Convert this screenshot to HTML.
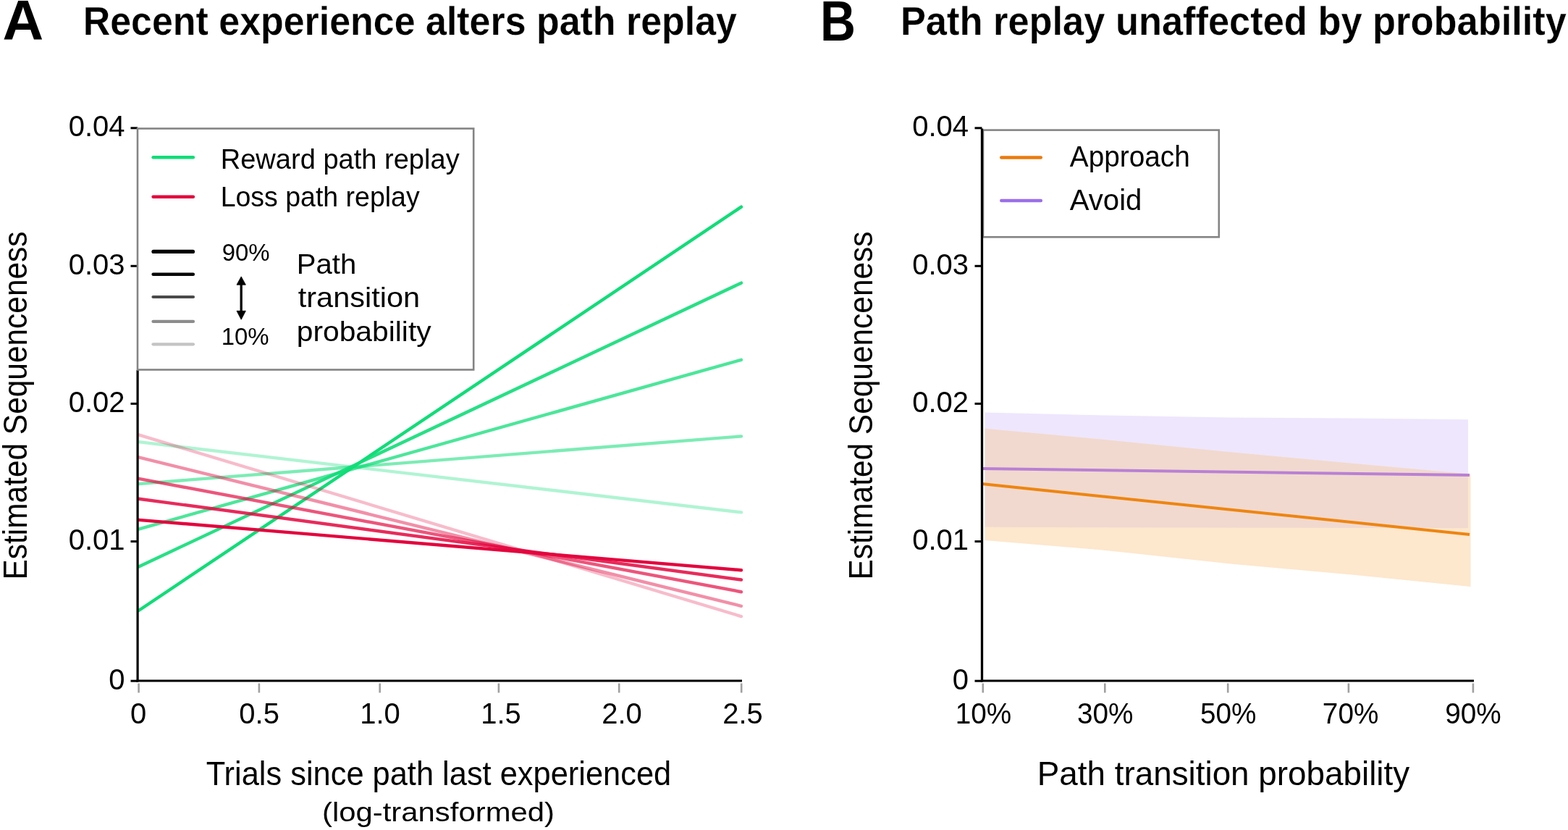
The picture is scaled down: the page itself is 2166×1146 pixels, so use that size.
<!DOCTYPE html>
<html><head><meta charset="utf-8"><title>Replay figure</title>
<style>
html,body{margin:0;padding:0;background:#fff;}
body{width:2166px;height:1146px;overflow:hidden;}
svg{display:block;font-family:"Liberation Sans", sans-serif;}
</style></head><body>
<svg width="2166" height="1146" viewBox="0 0 2166 1146">
<rect width="2166" height="1146" fill="#fff"/>
<g fill="#000">
<text x="3.5" y="55.4" font-size="78.5" font-weight="bold">A</text>
<text x="114.7" y="47.8" font-size="56" font-weight="bold" textLength="903.3" lengthAdjust="spacingAndGlyphs" stroke="#fff" stroke-width="0.25">Recent experience alters path replay</text>
<text x="1133" y="55.6" font-size="78.5" font-weight="bold" textLength="49" lengthAdjust="spacingAndGlyphs">B</text>
<text x="1243.9" y="47.8" font-size="56" font-weight="bold" textLength="920" lengthAdjust="spacingAndGlyphs" stroke="#fff" stroke-width="0.25">Path replay unaffected by probability</text>
</g>
<line x1="191.6" y1="610.18" x2="1024" y2="707.37" stroke="#10DD78" stroke-width="4.4" stroke-opacity="0.33" stroke-linecap="round"/>
<line x1="191.6" y1="668.08" x2="1024" y2="602.36" stroke="#10DD78" stroke-width="4.4" stroke-opacity="0.55" stroke-linecap="round"/>
<line x1="191.6" y1="730.58" x2="1024" y2="496.76" stroke="#10DD78" stroke-width="4.4" stroke-opacity="0.75" stroke-linecap="round"/>
<line x1="191.6" y1="782.49" x2="1024" y2="390.64" stroke="#10DD78" stroke-width="4.4" stroke-opacity="0.9" stroke-linecap="round"/>
<line x1="191.6" y1="843.00" x2="1024" y2="285.64" stroke="#10DD78" stroke-width="4.4" stroke-opacity="1.0" stroke-linecap="round"/>
<line x1="191.6" y1="600.45" x2="1024" y2="851.10" stroke="#E3063E" stroke-width="4.4" stroke-opacity="0.27" stroke-linecap="round"/>
<line x1="191.6" y1="631.27" x2="1024" y2="836.81" stroke="#E3063E" stroke-width="4.4" stroke-opacity="0.45" stroke-linecap="round"/>
<line x1="191.6" y1="660.88" x2="1024" y2="817.22" stroke="#E3063E" stroke-width="4.4" stroke-opacity="0.68" stroke-linecap="round"/>
<line x1="191.6" y1="688.70" x2="1024" y2="800.53" stroke="#E3063E" stroke-width="4.4" stroke-opacity="0.85" stroke-linecap="round"/>
<line x1="191.6" y1="717.83" x2="1024" y2="787.23" stroke="#E3063E" stroke-width="4.4" stroke-opacity="1.0" stroke-linecap="round"/>
<line x1="190.1" y1="511" x2="190.1" y2="941.5" stroke="#000" stroke-width="3.2"/>
<line x1="188.6" y1="940" x2="1025" y2="940" stroke="#000" stroke-width="3"/>
<line x1="180.5" y1="940.2" x2="190.1" y2="940.2" stroke="#000" stroke-width="3"/>
<line x1="180.5" y1="747.6" x2="190.1" y2="747.6" stroke="#000" stroke-width="3"/>
<line x1="180.5" y1="557.4" x2="190.1" y2="557.4" stroke="#000" stroke-width="3"/>
<line x1="180.5" y1="367.3" x2="190.1" y2="367.3" stroke="#000" stroke-width="3"/>
<line x1="180.5" y1="176.8" x2="190.1" y2="176.8" stroke="#000" stroke-width="3"/>
<line x1="191.6" y1="943.5" x2="191.6" y2="956.5" stroke="#a0a0a0" stroke-width="2.6"/>
<line x1="357.9" y1="943.5" x2="357.9" y2="956.5" stroke="#a0a0a0" stroke-width="2.6"/>
<line x1="524.7" y1="943.5" x2="524.7" y2="956.5" stroke="#a0a0a0" stroke-width="2.6"/>
<line x1="688.9" y1="943.5" x2="688.9" y2="956.5" stroke="#a0a0a0" stroke-width="2.6"/>
<line x1="855.2" y1="943.5" x2="855.2" y2="956.5" stroke="#a0a0a0" stroke-width="2.6"/>
<line x1="1024.2" y1="943.5" x2="1024.2" y2="956.5" stroke="#a0a0a0" stroke-width="2.6"/>
<rect x="190" y="177.5" width="464.2" height="333" fill="#fff" stroke="#848484" stroke-width="2.6"/>
<line x1="211.6" y1="217.3" x2="266.9" y2="217.3" stroke="#10DD78" stroke-width="4.5" stroke-linecap="round"/>
<line x1="211.6" y1="271.7" x2="266.9" y2="271.7" stroke="#E3063E" stroke-width="4.5" stroke-linecap="round"/>
<line x1="212.00" y1="347.4" x2="266.50" y2="347.4" stroke="#000" stroke-width="5.2" stroke-linecap="round"/>
<line x1="211.70" y1="378.8" x2="266.80" y2="378.8" stroke="#080808" stroke-width="4.6" stroke-linecap="round"/>
<line x1="211.50" y1="410" x2="267.00" y2="410" stroke="#4a4a4a" stroke-width="4.2" stroke-linecap="round"/>
<line x1="211.50" y1="443.9" x2="267.00" y2="443.9" stroke="#8c8c8c" stroke-width="4.2" stroke-linecap="round"/>
<line x1="211.50" y1="475.3" x2="267.00" y2="475.3" stroke="#c4c4c4" stroke-width="4.2" stroke-linecap="round"/>
<line x1="333.2" y1="390" x2="333.2" y2="432" stroke="#000" stroke-width="3.3"/>
<path d="M333.2 381.9 L327 393.2 L339.4 393.2 Z" fill="#000" stroke="#000" stroke-width="0.8" stroke-linejoin="round"/>
<path d="M333.2 441.2 L327 429.3 L339.4 429.3 Z" fill="#000" stroke="#000" stroke-width="0.8" stroke-linejoin="round"/>
<defs><clipPath id="pc"><polygon points="1360.5,569.6 1530,573.6 1700,576.5 1870,577.5 2028,579.2 2028,729.2 1360.5,727.8"/></clipPath></defs>
<polygon points="1360.5,569.6 1530,573.6 1700,576.5 1870,577.5 2028,579.2 2028,729.2 1360.5,727.8" fill="#EEE6FD"/>
<polygon points="1360.5,591.8 1530,607.4 1700,624.2 1870,640 2031.5,654.5 2031.5,810 1870,793.8 1700,778.6 1530,760.2 1360.5,746.1" fill="#FDE7CD"/>
<polygon points="1360.5,591.8 1530,607.4 1700,624.2 1870,640 2031.5,654.5 2031.5,810 1870,793.8 1700,778.6 1530,760.2 1360.5,746.1" fill="#F1D9CF" clip-path="url(#pc)"/>
<line x1="1356" y1="647" x2="2030" y2="656" stroke="#B980D4" stroke-width="4"/>
<line x1="1356" y1="668" x2="2030" y2="738" stroke="#EE8510" stroke-width="4"/>
<rect x="1358" y="179.6" width="325.8" height="147.7" fill="#fff" stroke="#848484" stroke-width="2.6"/>
<line x1="1383.3" y1="217.4" x2="1437.8" y2="217.4" stroke="#EB7B0C" stroke-width="4.5" stroke-linecap="round"/>
<line x1="1383.3" y1="277" x2="1437.8" y2="277" stroke="#9B6FEA" stroke-width="4.5" stroke-linecap="round"/>
<line x1="1356.5" y1="177.5" x2="1356.5" y2="941.5" stroke="#000" stroke-width="3.3"/>
<line x1="1355.0" y1="940" x2="2036" y2="940" stroke="#000" stroke-width="3"/>
<line x1="1346.5" y1="940.2" x2="1356.5" y2="940.2" stroke="#000" stroke-width="3"/>
<line x1="1346.5" y1="747.6" x2="1356.5" y2="747.6" stroke="#000" stroke-width="3"/>
<line x1="1346.5" y1="557.4" x2="1356.5" y2="557.4" stroke="#000" stroke-width="3"/>
<line x1="1346.5" y1="367.3" x2="1356.5" y2="367.3" stroke="#000" stroke-width="3"/>
<line x1="1346.5" y1="176.8" x2="1356.5" y2="176.8" stroke="#000" stroke-width="3"/>
<line x1="1357.8" y1="943.5" x2="1357.8" y2="956.5" stroke="#a0a0a0" stroke-width="2.6"/>
<line x1="1526.3" y1="943.5" x2="1526.3" y2="956.5" stroke="#a0a0a0" stroke-width="2.6"/>
<line x1="1696.2" y1="943.5" x2="1696.2" y2="956.5" stroke="#a0a0a0" stroke-width="2.6"/>
<line x1="1862.9" y1="943.5" x2="1862.9" y2="956.5" stroke="#a0a0a0" stroke-width="2.6"/>
<line x1="2034.9" y1="943.5" x2="2034.9" y2="956.5" stroke="#a0a0a0" stroke-width="2.6"/>
<g fill="#000">
<text x="172.5" y="951.7" font-size="40" text-anchor="end">0</text>
<text x="1338" y="951.7" font-size="40" text-anchor="end">0</text>
<text x="172.5" y="759.1" font-size="40" text-anchor="end">0.01</text>
<text x="1338" y="759.1" font-size="40" text-anchor="end">0.01</text>
<text x="172.5" y="568.9" font-size="40" text-anchor="end">0.02</text>
<text x="1338" y="568.9" font-size="40" text-anchor="end">0.02</text>
<text x="172.5" y="378.8" font-size="40" text-anchor="end">0.03</text>
<text x="1338" y="378.8" font-size="40" text-anchor="end">0.03</text>
<text x="172.5" y="188.3" font-size="40" text-anchor="end">0.04</text>
<text x="1338" y="188.3" font-size="40" text-anchor="end">0.04</text>
<text x="191.1" y="999" font-size="40" text-anchor="middle">0</text>
<text x="358.08" y="999" font-size="40" text-anchor="middle">0.5</text>
<text x="525.06" y="999" font-size="40" text-anchor="middle">1.0</text>
<text x="692.04" y="999" font-size="40" text-anchor="middle">1.5</text>
<text x="859.02" y="999" font-size="40" text-anchor="middle">2.0</text>
<text x="1026.0" y="999" font-size="40" text-anchor="middle">2.5</text>
<text x="1358.5" y="999" font-size="40" text-anchor="middle" textLength="77.5" lengthAdjust="spacingAndGlyphs">10%</text>
<text x="1526.8" y="999" font-size="40" text-anchor="middle" textLength="77.5" lengthAdjust="spacingAndGlyphs">30%</text>
<text x="1696.7" y="999" font-size="40" text-anchor="middle" textLength="77.5" lengthAdjust="spacingAndGlyphs">50%</text>
<text x="1865.6" y="999" font-size="40" text-anchor="middle" textLength="77.5" lengthAdjust="spacingAndGlyphs">70%</text>
<text x="2034.9" y="999" font-size="40" text-anchor="middle" textLength="77.5" lengthAdjust="spacingAndGlyphs">90%</text>
<text x="284.7" y="1084" font-size="46" textLength="642.5" lengthAdjust="spacingAndGlyphs">Trials since path last experienced</text>
<text x="445" y="1134" font-size="36.5" textLength="321" lengthAdjust="spacingAndGlyphs">(log-transformed)</text>
<text x="1432.7" y="1083.6" font-size="46" textLength="514.5" lengthAdjust="spacingAndGlyphs">Path transition probability</text>
<text transform="translate(37.4,560) rotate(-90)" font-size="46" text-anchor="middle" textLength="481" lengthAdjust="spacingAndGlyphs">Estimated Sequenceness</text>
<text transform="translate(1205,560) rotate(-90)" font-size="46" text-anchor="middle" textLength="481" lengthAdjust="spacingAndGlyphs">Estimated Sequenceness</text>
<text x="304.7" y="232.6" font-size="39" textLength="330" lengthAdjust="spacingAndGlyphs">Reward path replay</text>
<text x="304.7" y="285.4" font-size="39" textLength="275" lengthAdjust="spacingAndGlyphs">Loss path replay</text>
<text x="306.7" y="360" font-size="34" textLength="66" lengthAdjust="spacingAndGlyphs">90%</text>
<text x="305.7" y="476.3" font-size="34" textLength="66" lengthAdjust="spacingAndGlyphs">10%</text>
<text x="409.7" y="377.6" font-size="39" textLength="82.5" lengthAdjust="spacingAndGlyphs">Path</text>
<text x="411.7" y="424.4" font-size="39" textLength="168.5" lengthAdjust="spacingAndGlyphs">transition</text>
<text x="409.7" y="470.8" font-size="39" textLength="186" lengthAdjust="spacingAndGlyphs">probability</text>
<text x="1477.8" y="230.3" font-size="40" textLength="166" lengthAdjust="spacingAndGlyphs">Approach</text>
<text x="1477.8" y="290.2" font-size="40" textLength="99.6" lengthAdjust="spacingAndGlyphs">Avoid</text>
</g>
</svg>
</body></html>
